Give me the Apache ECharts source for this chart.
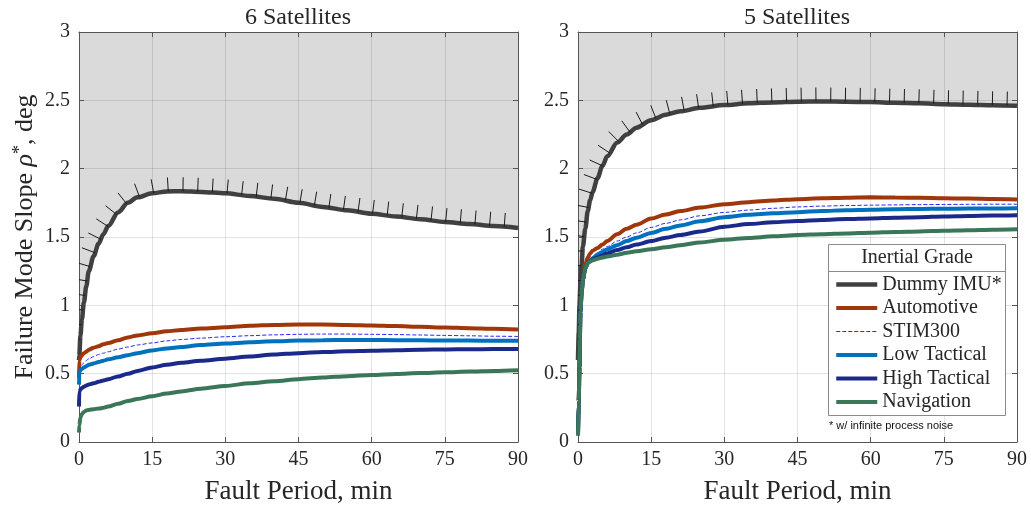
<!DOCTYPE html>
<html>
<head>
<meta charset="utf-8">
<script src="https://cdn.jsdelivr.net/npm/echarts@6/dist/echarts.min.js"></script>
<style>
  html, body { margin: 0; padding: 0; background: #fff; }
  #chart { width: 1031px; height: 510px; }
</style>
</head>
<body>
<div id="chart"></div>
<script>
// Failure-mode slope versus fault period for several IMU grades
const seriesNames = ['Dummy IMU*', 'Automotive', 'STIM300', 'Low Tactical', 'High Tactical', 'Navigation'];
const panelTitles = ['6 Satellites', '5 Satellites'];
const xAxisTitle = 'Fault Period, min';
const legendTitle = 'Inertial Grade';
const footnote = '* w/ infinite process noise';
const xMin = 0, xMax = 90, xStep = 15;
const yMin = 0, yMax = 3, yStep = 0.5;

// 6 satellites
const xs6 = [0, 0.05, 0.3, 0.6, 1, 1.5, 2, 3, 4, 5, 6, 8, 10, 12, 15, 18, 21, 25, 30, 35, 40, 45, 50, 55, 60, 65, 70, 75, 80, 85, 90];
const dummy6 = [0.6, 0.63, 0.78, 0.9, 1.02, 1.14, 1.25, 1.36, 1.45, 1.52, 1.58, 1.68, 1.75, 1.79, 1.82, 1.833, 1.835, 1.83, 1.82, 1.80, 1.78, 1.75, 1.72, 1.695, 1.67, 1.65, 1.63, 1.61, 1.595, 1.58, 1.566];
const auto6 = [0.47, 0.6, 0.62, 0.635, 0.65, 0.66, 0.675, 0.69, 0.70, 0.715, 0.725, 0.745, 0.765, 0.78, 0.795, 0.81, 0.82, 0.83, 0.84, 0.85, 0.857, 0.86, 0.86, 0.857, 0.853, 0.848, 0.843, 0.838, 0.833, 0.828, 0.823];
const stim6 = [0.52, 0.53, 0.55, 0.565, 0.58, 0.595, 0.61, 0.625, 0.64, 0.65, 0.66, 0.68, 0.695, 0.71, 0.725, 0.74, 0.75, 0.76, 0.77, 0.778, 0.784, 0.788, 0.79, 0.79, 0.788, 0.786, 0.783, 0.78, 0.777, 0.774, 0.772];
const low6 = [0.42, 0.51, 0.525, 0.535, 0.545, 0.555, 0.565, 0.575, 0.585, 0.595, 0.605, 0.62, 0.635, 0.65, 0.67, 0.685, 0.695, 0.71, 0.72, 0.73, 0.737, 0.742, 0.745, 0.746, 0.746, 0.745, 0.744, 0.743, 0.742, 0.741, 0.74];
const high6 = [0.26, 0.37, 0.385, 0.395, 0.405, 0.413, 0.42, 0.43, 0.44, 0.45, 0.46, 0.48, 0.50, 0.52, 0.545, 0.565, 0.58, 0.595, 0.61, 0.625, 0.64, 0.65, 0.658, 0.664, 0.668, 0.672, 0.675, 0.677, 0.679, 0.68, 0.681];
const nav6 = [0.07, 0.12, 0.18, 0.205, 0.22, 0.23, 0.235, 0.24, 0.245, 0.25, 0.26, 0.28, 0.30, 0.315, 0.335, 0.355, 0.37, 0.39, 0.41, 0.43, 0.445, 0.46, 0.472, 0.482, 0.49, 0.498, 0.505, 0.51, 0.515, 0.52, 0.525];

// 5 satellites
const xs5 = [0, 0.15, 0.3, 0.5, 0.75, 1, 1.5, 2, 2.5, 3, 4, 5, 6, 8, 10, 12, 15, 18, 21, 25, 30, 35, 40, 45, 50, 55, 60, 65, 70, 75, 80, 85, 90];
const dummy5 = [0.6, 0.8, 1.0, 1.17, 1.3, 1.43, 1.56, 1.69, 1.77, 1.83, 1.93, 2.02, 2.09, 2.19, 2.25, 2.30, 2.355, 2.395, 2.42, 2.445, 2.465, 2.478, 2.485, 2.49, 2.492, 2.49, 2.487, 2.482, 2.478, 2.472, 2.468, 2.464, 2.46];
const auto5 = [0.05, 0.3, 0.55, 0.95, 1.1, 1.19, 1.3, 1.35, 1.38, 1.4, 1.42, 1.445, 1.47, 1.52, 1.56, 1.59, 1.635, 1.665, 1.69, 1.715, 1.74, 1.755, 1.767, 1.777, 1.784, 1.788, 1.79, 1.789, 1.787, 1.784, 1.781, 1.778, 1.775];
const stim5 = [0.05, 0.3, 0.55, 0.95, 1.1, 1.19, 1.27, 1.31, 1.335, 1.355, 1.385, 1.41, 1.43, 1.47, 1.50, 1.53, 1.57, 1.60, 1.625, 1.655, 1.68, 1.697, 1.71, 1.72, 1.726, 1.73, 1.733, 1.735, 1.737, 1.738, 1.739, 1.74, 1.74];
const low5 = [0.05, 0.3, 0.55, 0.95, 1.1, 1.19, 1.27, 1.31, 1.33, 1.345, 1.37, 1.39, 1.41, 1.44, 1.47, 1.495, 1.53, 1.56, 1.585, 1.615, 1.645, 1.662, 1.673, 1.682, 1.69, 1.696, 1.70, 1.703, 1.705, 1.707, 1.708, 1.709, 1.71];
const high5 = [0.05, 0.3, 0.55, 0.95, 1.1, 1.19, 1.27, 1.31, 1.325, 1.335, 1.35, 1.365, 1.38, 1.405, 1.425, 1.445, 1.47, 1.495, 1.515, 1.54, 1.575, 1.595, 1.608, 1.617, 1.625, 1.631, 1.636, 1.641, 1.645, 1.65, 1.654, 1.657, 1.66];
const nav5 = [0.05, 0.3, 0.55, 0.95, 1.1, 1.19, 1.27, 1.31, 1.32, 1.33, 1.34, 1.35, 1.357, 1.37, 1.385, 1.395, 1.41, 1.425, 1.44, 1.46, 1.48, 1.493, 1.505, 1.515, 1.52, 1.526, 1.532, 1.537, 1.541, 1.545, 1.549, 1.553, 1.556];

const colors = ['#404040', '#A0360B', '#2B2BF5', '#0072BD', '#1B2A8A', '#3A7658'];
const widths = [4.5, 4, 1, 4, 4, 4];
const dashes = ['solid', 'solid', [4, 2], 'solid', 'solid', 'solid'];

const serif = "'Liberation Serif', 'Times New Roman', serif";
const textColor = '#262626';
const axisColor = '#555555';
const gridColor = 'rgba(0,0,0,0.11)';

const panels = [
  { xs: xs6, rows: [dummy6, auto6, stim6, low6, high6, nav6] },
  { xs: xs5, rows: [dummy5, auto5, stim5, low5, high5, nav5] }
];

const chart = echarts.init(document.getElementById('chart'));

const grids = [
  { left: 79, right: 513, top: 32, bottom: 66 },
  { left: 578, right: 14, top: 32, bottom: 66 }
];

function mainX(i) {
  return {
    type: 'value', gridIndex: i, min: xMin, max: xMax, interval: xStep, z: 1,
    name: xAxisTitle, nameLocation: 'middle', nameGap: 36,
    nameTextStyle: { fontFamily: serif, fontSize: 27, color: textColor },
    axisLine: { show: true, onZero: false, lineStyle: { color: axisColor, width: 1 } },
    axisTick: { show: true, inside: true, length: 5, lineStyle: { color: axisColor } },
    axisLabel: { fontFamily: serif, fontSize: 20, color: textColor, margin: 8 },
    splitLine: { show: true, lineStyle: { color: gridColor, width: 1 } }
  };
}
function mainY(i, withName) {
  const ax = {
    type: 'value', gridIndex: i, min: yMin, max: yMax, interval: yStep, z: 1,
    axisLine: { show: true, onZero: false, lineStyle: { color: axisColor, width: 1 } },
    axisTick: { show: true, inside: true, length: 5, lineStyle: { color: axisColor } },
    axisLabel: { fontFamily: serif, fontSize: 20, color: textColor, margin: 9 },
    splitLine: { show: true, lineStyle: { color: gridColor, width: 1 } }
  };
  if (withName) {
    ax.name = '{t|Failure Mode Slope }{r|ρ}{s|*}{t|, deg}';
    ax.nameLocation = 'middle';
    ax.nameGap = 40;
    ax.nameRotate = 90;
    ax.nameTextStyle = {
      color: textColor,
      rich: {
        t: { fontFamily: serif, fontSize: 26, color: textColor },
        r: { fontFamily: serif, fontSize: 26, fontStyle: 'italic', color: textColor },
        s: { fontFamily: serif, fontSize: 18, color: textColor, verticalAlign: 'top', padding: [0, 0, 10, 0] }
      }
    };
  }
  return ax;
}
function boxX(i) {
  return {
    type: 'value', gridIndex: i, position: 'top', min: xMin, max: xMax, interval: xStep, z: 1,
    axisLine: { show: true, onZero: false, lineStyle: { color: axisColor, width: 1 } },
    axisTick: { show: true, inside: true, length: 5, lineStyle: { color: axisColor } },
    axisLabel: { show: false }, splitLine: { show: false }
  };
}
function boxY(i) {
  return {
    type: 'value', gridIndex: i, position: 'right', min: yMin, max: yMax, interval: yStep, z: 1,
    axisLine: { show: true, onZero: false, lineStyle: { color: axisColor, width: 1 } },
    axisTick: { show: true, inside: true, length: 5, lineStyle: { color: axisColor } },
    axisLabel: { show: false }, splitLine: { show: false }
  };
}

// shaded region above the dummy IMU boundary
function areaRender(xs, ys) {
  return function (params, api) {
    const pts = xs.map((x, k) => api.coord([x, ys[k]]));
    pts.push(api.coord([xMax, yMax]));
    pts.push(api.coord([xMin, yMax]));
    return { type: 'polygon', shape: { points: pts }, style: { fill: '#dadada' }, silent: true };
  };
}

// hatch marks normal to the boundary, pointing into the shaded side
function hatchRender(xs, ys) {
  return function (params, api) {
    const cs = params.coordSys;
    const p = xs.map((x, k) => api.coord([x, ys[k]]));
    const L = [0];
    for (let k = 1; k < p.length; k++) {
      L.push(L[k - 1] + Math.hypot(p[k][0] - p[k - 1][0], p[k][1] - p[k - 1][1]));
    }
    const total = L[L.length - 1];
    const at = function (s) {
      s = Math.max(0, Math.min(total, s));
      let k = 1;
      while (k < L.length - 1 && L[k] < s) k++;
      const seg = L[k] - L[k - 1] || 1;
      const t = (s - L[k - 1]) / seg;
      return [p[k - 1][0] + t * (p[k][0] - p[k - 1][0]), p[k - 1][1] + t * (p[k][1] - p[k - 1][1])];
    };
    const children = [];
    const step = 14.7, len = 14, win = 7;
    for (let s = 6; s <= total; s += step) {
      const a = at(s - win), b = at(s + win), c = at(s);
      const dx = b[0] - a[0], dy = b[1] - a[1];
      const n = Math.hypot(dx, dy) || 1;
      const nx = dy / n, ny = -dx / n;
      children.push({
        type: 'line',
        shape: { x1: c[0], y1: c[1], x2: c[0] + nx * len, y2: c[1] + ny * len },
        style: { stroke: '#1a1a1a', lineWidth: 1 }
      });
    }
    return {
      type: 'group', children: children,
      clipPath: { type: 'rect', shape: { x: cs.x, y: cs.y, width: cs.width, height: cs.height } }
    };
  };
}

const series = [];
panels.forEach((pn, i) => {
  series.push({
    type: 'custom', xAxisIndex: i, yAxisIndex: i, z: 0, silent: true,
    data: [[0, 0]], encode: { x: 0, y: 1 },
    renderItem: areaRender(pn.xs, pn.rows[0])
  });
  pn.rows.forEach((row, j) => {
    series.push({
      name: seriesNames[j], type: 'line', xAxisIndex: i, yAxisIndex: i, z: 2,
      data: pn.xs.map((x, k) => [x, row[k]]),
      symbol: 'none', showSymbol: false, smooth: 0.3, smoothMonotone: 'x',
      lineStyle: { color: colors[j], width: widths[j], type: dashes[j], cap: 'butt' },
      itemStyle: { color: colors[j] },
      silent: true, animation: false
    });
  });
  series.push({
    type: 'custom', xAxisIndex: i, yAxisIndex: i, z: 3, silent: true,
    data: [[0, 0]], encode: { x: 0, y: 1 },
    renderItem: hatchRender(pn.xs, pn.rows[0])
  });
});

const option = {
  animation: false,
  backgroundColor: '#ffffff',
  grid: grids,
  xAxis: [mainX(0), mainX(1), boxX(0), boxX(1)],
  yAxis: [mainY(0, true), mainY(1, false), boxY(0), boxY(1)],
  legend: {
    data: seriesNames.map((nm, j) => ({
      name: nm,
      lineStyle: { width: widths[j] }
    })),
    orient: 'vertical',
    left: 834, top: 274.5, padding: 0,
    itemWidth: 41, itemHeight: 14, itemGap: 3.5,
    selectedMode: false,
    z: 6,
    itemStyle: { opacity: 0, borderWidth: 0 },
    textStyle: { fontFamily: serif, fontSize: 20, color: textColor }
  },
  graphic: [
    { type: 'text', x: 298, y: 18, z: 5, style: { text: panelTitles[0], fontFamily: serif, fontSize: 24, fill: textColor, textAlign: 'center', textVerticalAlign: 'middle' } },
    { type: 'text', x: 797, y: 18, z: 5, style: { text: panelTitles[1], fontFamily: serif, fontSize: 24, fill: textColor, textAlign: 'center', textVerticalAlign: 'middle' } },
    { type: 'rect', z: 4, shape: { x: 828.5, y: 244.5, width: 177, height: 171 }, style: { fill: '#ffffff', stroke: '#8a8a8a', lineWidth: 1 } },
    { type: 'line', z: 5, shape: { x1: 828.5, y1: 271.5, x2: 1005.5, y2: 271.5 }, style: { stroke: '#8a8a8a', lineWidth: 1 } },
    { type: 'text', x: 917, y: 258, z: 5, style: { text: legendTitle, fontFamily: serif, fontSize: 20, fill: textColor, textAlign: 'center', textVerticalAlign: 'middle' } },
    { type: 'text', x: 829, y: 426, z: 5, style: { text: footnote, fontFamily: "'Liberation Sans', Arial, sans-serif", fontSize: 11, fill: '#111', textAlign: 'left', textVerticalAlign: 'middle' } }
  ],
  series: series
};

chart.setOption(option);
</script>
</body>
</html>
